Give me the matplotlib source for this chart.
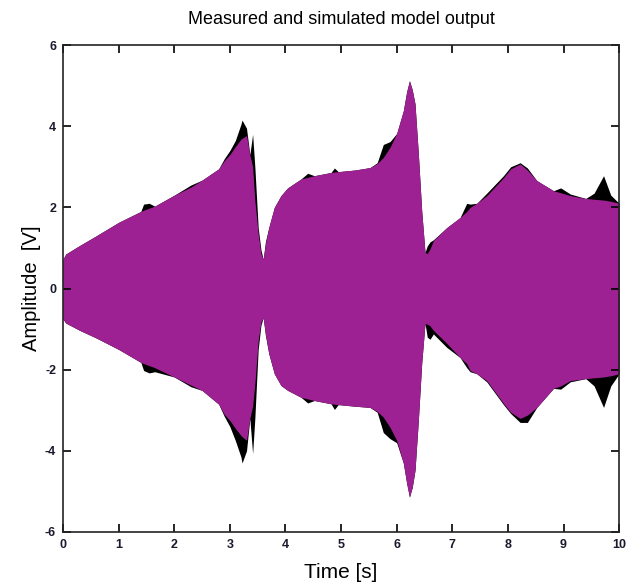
import matplotlib
matplotlib.use("Agg")
import matplotlib.pyplot as plt

# time grid shared by both signals (s)
t = [0.0, 0.05, 0.3, 0.6, 1.0, 1.4, 1.45, 1.55, 1.65, 2.0, 2.3, 2.5, 2.8, 2.9,
     3.0, 3.1, 3.2, 3.22, 3.3, 3.36, 3.41, 3.45, 3.51, 3.56, 3.6, 3.64, 3.7,
     3.8, 3.92, 4.04, 4.28, 4.4, 4.52, 4.82, 4.88, 4.95, 5.25, 5.52, 5.65,
     5.76, 5.88, 6.0, 6.12, 6.18, 6.23, 6.28, 6.33, 6.39, 6.45, 6.51, 6.55,
     6.6, 6.66, 6.9, 7.14, 7.26, 7.32, 7.44, 7.62, 7.92, 8.05, 8.22, 8.35,
     8.52, 8.82, 8.95, 9.12, 9.4, 9.55, 9.72, 9.85, 10.0]

# envelope of the simulated model output (V)
sim_upper = [0.72, 0.85, 1.06, 1.3, 1.63, 1.9, 1.93, 1.98, 2.03, 2.3, 2.5, 2.67,
             2.95, 3.15, 3.3, 3.5, 3.68, 3.7, 3.77, 3.3, 3.0, 2.17, 1.35, 0.86,
             0.72, 1.1, 1.5, 2.0, 2.29, 2.48, 2.7, 2.74, 2.78, 2.86, 2.87, 2.88,
             2.92, 2.98, 3.08, 3.23, 3.48, 3.82, 4.38, 4.85, 5.12, 4.9, 4.55,
             3.32, 1.92, 0.89, 0.86, 0.98, 1.18, 1.5, 1.75, 1.9, 2.0, 2.1, 2.29,
             2.73, 2.95, 3.07, 2.92, 2.66, 2.41, 2.36, 2.29, 2.22, 2.2, 2.18,
             2.15, 2.1]
sim_lower = [-0.75, -0.85, -1.03, -1.22, -1.5, -1.82, -1.85, -1.9, -1.95, -2.18,
             -2.38, -2.51, -2.85, -3.1, -3.25, -3.45, -3.62, -3.65, -3.74, -3.2,
             -2.9, -2.35, -1.28, -0.82, -0.72, -1.12, -1.6, -2.1, -2.39, -2.51,
             -2.68, -2.72, -2.76, -2.84, -2.85, -2.86, -2.9, -2.93, -3.03, -3.17,
             -3.42, -3.74, -4.3, -4.8, -5.14, -4.9, -4.48, -3.25, -1.85, -0.86,
             -0.88, -0.92, -1.03, -1.35, -1.7, -1.85, -2.02, -2.1, -2.27, -2.83,
             -3.05, -3.2, -3.12, -2.93, -2.46, -2.4, -2.27, -2.22, -2.2, -2.18,
             -2.15, -2.1]

# envelope of the measured output (V)
meas_upper = [0.72, 0.85, 1.06, 1.3, 1.63, 1.9, 2.08, 2.1, 2.03, 2.3, 2.55,
              2.67, 2.95, 3.2, 3.4, 3.65, 4.05, 4.15, 3.95, 3.3, 3.8, 3.0, 1.5,
              0.95, 0.72, 1.15, 1.5, 2.0, 2.29, 2.48, 2.7, 2.84, 2.78, 2.86, 2.97,
              2.88, 2.92, 2.98, 3.1, 3.55, 3.62, 3.82, 4.38, 4.85, 5.12, 4.9,
              4.55, 3.32, 1.92, 0.89, 1.05, 1.15, 1.2, 1.5, 1.75, 2.1, 2.08, 2.1,
              2.35, 2.78, 3.0, 3.1, 2.97, 2.66, 2.41, 2.48, 2.33, 2.22, 2.35,
              2.78, 2.3, 2.1]
meas_lower = [-0.75, -0.85, -1.03, -1.22, -1.5, -1.82, -2.02, -2.08, -2.05,
              -2.18, -2.42, -2.51, -2.85, -3.15, -3.4, -3.75, -4.15, -4.3, -4.0,
              -3.2, -4.07, -3.2, -1.5, -0.9, -0.72, -1.15, -1.6, -2.1, -2.39,
              -2.51, -2.68, -2.82, -2.76, -2.84, -2.98, -2.86, -2.9, -2.93, -3.05,
              -3.55, -3.7, -3.8, -4.3, -4.8, -5.14, -4.9, -4.48, -3.25, -1.85,
              -0.86, -1.2, -1.25, -1.12, -1.45, -1.7, -1.95, -2.05, -2.1, -2.3,
              -2.86, -3.08, -3.3, -3.3, -2.93, -2.46, -2.48, -2.3, -2.22, -2.4,
              -2.93, -2.4, -2.1]

x_ticks = [0, 1, 2, 3, 4, 5, 6, 7, 8, 9, 10]
y_ticks = [-6, -4, -2, 0, 2, 4, 6]

plt.rcParams["font.family"] = ["Liberation Sans", "DejaVu Sans"]
plt.rcParams["axes.unicode_minus"] = False

fig = plt.figure(figsize=(6.26, 5.85), dpi=100)
ax = fig.add_axes([0.1006, 0.0906, 0.8884, 0.8324])

ax.fill_between(t, meas_lower, meas_upper, color="black", linewidth=0)
ax.fill_between(t, sim_lower, sim_upper, color="#9e2193", linewidth=0)

ax.set_xlim(0, 10)
ax.set_ylim(-6, 6)
ax.set_xticks(x_ticks)
ax.set_yticks(y_ticks)
ax.tick_params(direction="in", top=True, right=True, length=6, width=1.2,
               labelsize=9, labelcolor="#1a1a2e", pad=5)
for lbl in ax.get_xticklabels() + ax.get_yticklabels():
    lbl.set_fontweight("bold")
for sp in ax.spines.values():
    sp.set_linewidth(1.2)
    sp.set_color("#222222")

ax.set_title("Measured and simulated model output", fontsize=13, pad=15)
ax.set_xlabel("Time [s]", fontsize=15, labelpad=9)
ax.set_ylabel("Amplitude  [V]", fontsize=14.5, labelpad=3)

fig.savefig("out.png", dpi=100)
